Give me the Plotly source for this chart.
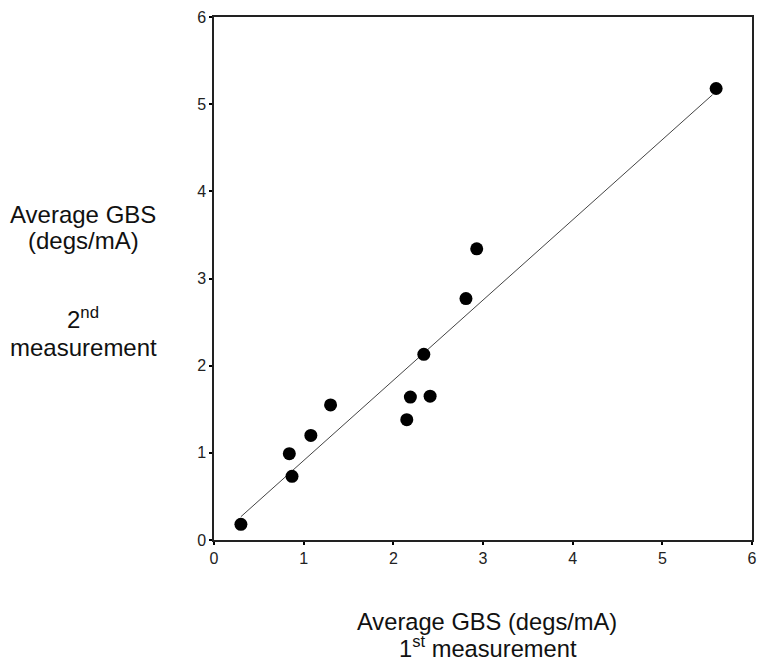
import numpy as np
import plotly.graph_objects as go

first_meas = [0.30, 0.84, 0.87, 1.08, 1.30, 2.15, 2.19, 2.41, 2.34, 2.81, 2.93, 5.60]
second_meas = [0.18, 0.99, 0.73, 1.20, 1.55, 1.38, 1.64, 1.65, 2.13, 2.77, 3.34, 5.18]
tick_vals = [0, 1, 2, 3, 4, 5, 6]

slope, intercept = np.polyfit(first_meas, second_meas, 1)
fit_x = [min(first_meas), max(first_meas) - 0.04]
fit_y = [slope * v + intercept for v in fit_x]

fig = go.Figure()
fig.add_trace(go.Scatter(x=fit_x, y=fit_y, mode="lines",
                         line=dict(color="#444444", width=1), showlegend=False))
fig.add_trace(go.Scatter(x=first_meas, y=second_meas, mode="markers",
                         marker=dict(color="black", size=13), showlegend=False))

axis_common = dict(range=[0, 6], tickvals=tick_vals, showgrid=False, zeroline=False,
                   showline=True, linecolor="#222", linewidth=1.5, mirror=True,
                   ticks="outside", ticklen=3, tickwidth=2, tickcolor="black",
                   automargin=False,
                   tickfont=dict(family="Liberation Sans, Arial", size=16, color="#222"))
fig.update_xaxes(**axis_common)
fig.update_yaxes(**axis_common)

font_y = dict(family="Liberation Sans, Arial", size=24, color="#111")
font_x = dict(family="Liberation Sans, Arial", size=23.7, color="#111")
ann = [
    dict(x=83, y=214, text="Average GBS", f=font_y),
    dict(x=83, y=240, text="(degs/mA)", f=font_y),
    dict(x=83, y=318, text="2<sup>nd</sup>", f=font_y),
    dict(x=83, y=347, text="measurement", f=font_y),
    dict(x=487, y=622, text="Average GBS (degs/mA)", f=font_x),
    dict(x=488, y=647, text="1<sup>st</sup> measurement", f=font_x),
]

L, R, T, B = 214, 7, 17, 121
pw, ph = 759 - L - R, 661 - T - B
annotations = []
for a in ann:
    annotations.append(dict(x=(a["x"] - L) / pw, y=1 - (a["y"] - T) / ph,
                            xref="paper", yref="paper",
                            text=a["text"], showarrow=False, font=a["f"],
                            xanchor="center", yanchor="middle"))

fig.update_layout(width=759, height=661, margin=dict(l=L, r=R, t=T, b=B),
                  plot_bgcolor="white", paper_bgcolor="white",
                  annotations=annotations)
fig.write_html("out.html", config={"displayModeBar": False},
               post_script="document.body.style.margin='0';document.body.style.overflow='hidden';")
